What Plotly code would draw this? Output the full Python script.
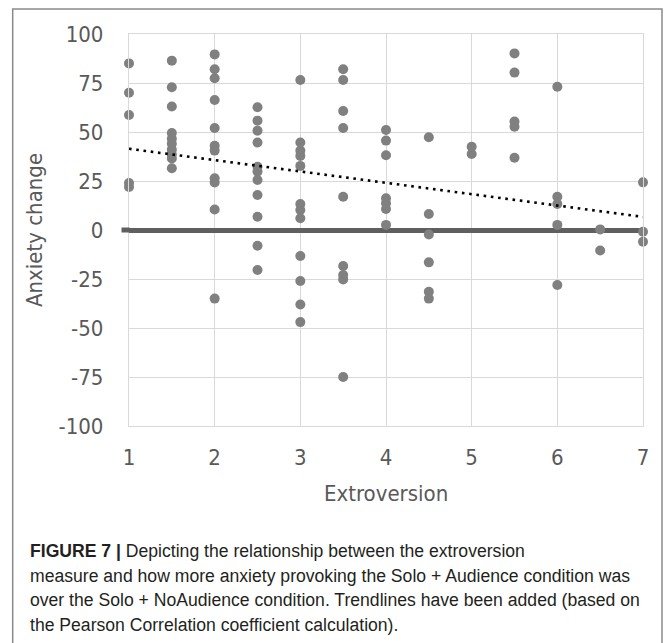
import numpy as np
import plotly.graph_objects as go

# ---- data ----
extroversion = [1, 1, 1, 1, 1,
                1.5, 1.5, 1.5, 1.5, 1.5, 1.5, 1.5, 1.5, 1.5, 1.5,
                2, 2, 2, 2, 2, 2, 2, 2, 2, 2, 2,
                2.5, 2.5, 2.5, 2.5, 2.5, 2.5, 2.5, 2.5, 2.5, 2.5, 2.5,
                3, 3, 3, 3, 3, 3, 3, 3, 3, 3, 3, 3,
                3.5, 3.5, 3.5, 3.5, 3.5, 3.5, 3.5, 3.5, 3.5,
                4, 4, 4, 4, 4, 4, 4,
                4.5, 4.5, 4.5, 4.5, 4.5, 4.5,
                5, 5,
                5.5, 5.5, 5.5, 5.5, 5.5,
                6, 6, 6, 6, 6,
                6.5, 6.5,
                7, 7, 7]
anxiety_change = [85, 70, 58.7, 24, 22,
                  86.4, 72.8, 63, 49.5, 46.5, 44, 41, 38.5, 36.5, 31.5,
                  89.6, 82, 77.4, 66.3, 52, 43, 40.5, 26.4, 24.2, 10.5, -35,
                  62.6, 55.8, 50.7, 44.6, 32.3, 29.8, 25.5, 17.9, 6.8, -8, -20.4,
                  76.5, 44.6, 40.5, 37.8, 32.7, 13.3, 10.2, 6, -13.3, -26, -38, -47,
                  82, 76.5, 60.7, 52, 17, -18.4, -23, -25.2, -75,
                  51, 45.6, 38.1, 16.2, 13.6, 10.7, 2.6,
                  47.3, 8.2, -2.3, -16.5, -31.5, -35,
                  42.5, 38.8,
                  90.1, 80.3, 55.3, 52.7, 36.9,
                  73.1, 17, 13.3, 2.6, -28.1,
                  0.3, -10.5,
                  24.3, -0.9, -6]
x_ticks = [1, 2, 3, 4, 5, 6, 7]
y_ticks = [-100, -75, -50, -25, 0, 25, 50, 75, 100]

x_title = "Extroversion"
y_title = "Anxiety change"
caption_lines = [
    "<b>FIGURE 7 |</b> Depicting the relationship between the extroversion",
    "measure and how more anxiety provoking the Solo + Audience condition was",
    "over the Solo + NoAudience condition. Trendlines have been added (based on",
    "the Pearson Correlation coefficient calculation).",
]

# ---- layout geometry (pixels) ----
W, H = 665, 643
ML, MR, MT, MB = 129, 22, 34, 217
PW, PH = W - ML - MR, H - MT - MB


def px(x):
    return (x - ML) / PW


def py(y):
    return (H - MB - y) / PH


# linear trendline (least squares) computed from the data
slope, intercept = np.polyfit(extroversion, anxiety_change, 1)
trend_x = [min(x_ticks), max(x_ticks)]
trend_y = [intercept + slope * v for v in trend_x]

AXIS_FONT = dict(family="DejaVu Sans Condensed, DejaVu Sans", size=22, color="#595959")
GRID = "#d9d9d9"
ZERO = "#5f5f5f"

fig = go.Figure()
fig.add_trace(go.Scatter(
    x=extroversion, y=anxiety_change, mode="markers",
    marker=dict(size=10, color="#808080"),
    cliponaxis=False, showlegend=False, hoverinfo="x+y",
))
fig.add_trace(go.Scatter(
    x=trend_x, y=trend_y, mode="lines",
    line=dict(color="#000000", width=2.6, dash="2.6px,4.7px"),
    cliponaxis=False, showlegend=False, hoverinfo="skip",
))

fig.update_layout(
    width=W, height=H,
    margin=dict(l=ML, r=MR, t=MT, b=MB, pad=0),
    paper_bgcolor="white", plot_bgcolor="white",
    xaxis=dict(
        range=[1, 7], tickvals=x_ticks, ticktext=[str(v) for v in x_ticks],
        showgrid=True, gridcolor=GRID, gridwidth=1.3,
        zeroline=False, showline=True, linecolor=GRID, linewidth=1.3, mirror=True,
        ticks="outside", ticklen=11, tickcolor="rgba(0,0,0,0)",
        tickfont=AXIS_FONT,
    ),
    yaxis=dict(
        range=[-100, 100], tickvals=y_ticks, ticktext=[str(v) for v in y_ticks],
        showgrid=True, gridcolor=GRID, gridwidth=1.3,
        zeroline=True, zerolinecolor=ZERO, zerolinewidth=5,
        showline=True, linecolor=GRID, linewidth=1.3, mirror=True,
        ticks="outside", ticklen=20, tickcolor="rgba(0,0,0,0)",
        tickfont=AXIS_FONT,
    ),
    shapes=[
        # short extension of the horizontal axis to the left of the plot
        dict(type="line", xref="paper", yref="y", x0=px(121.5), x1=px(129.5), y0=0, y1=0,
             line=dict(color=ZERO, width=5), layer="above"),
        # outer frame
        dict(type="rect", xref="paper", yref="paper",
             x0=px(12.7), x1=px(662), y0=py(660), y1=py(9),
             line=dict(color="#8a8a8a", width=1.5), fillcolor="rgba(0,0,0,0)",
             layer="above"),
    ],
)

annotations = [
    dict(text=x_title, xref="paper", yref="paper", x=px(386), y=py(493),
         xanchor="center", yanchor="middle", showarrow=False, font=AXIS_FONT),
    dict(text=y_title, xref="paper", yref="paper", x=px(34), y=0.5, textangle=-90,
         xanchor="center", yanchor="middle", showarrow=False, font=AXIS_FONT),
]
cap_y = [551, 575.5, 600, 624.5]
for line, yy in zip(caption_lines, cap_y):
    annotations.append(dict(
        text=line, xref="paper", yref="paper", x=px(28), y=py(yy),
        xanchor="left", yanchor="middle", showarrow=False, align="left",
        font=dict(family="Liberation Sans, Arial", size=17.6, color="#231f20"),
    ))
fig.update_layout(annotations=annotations)

fig.write_html("out.html")
